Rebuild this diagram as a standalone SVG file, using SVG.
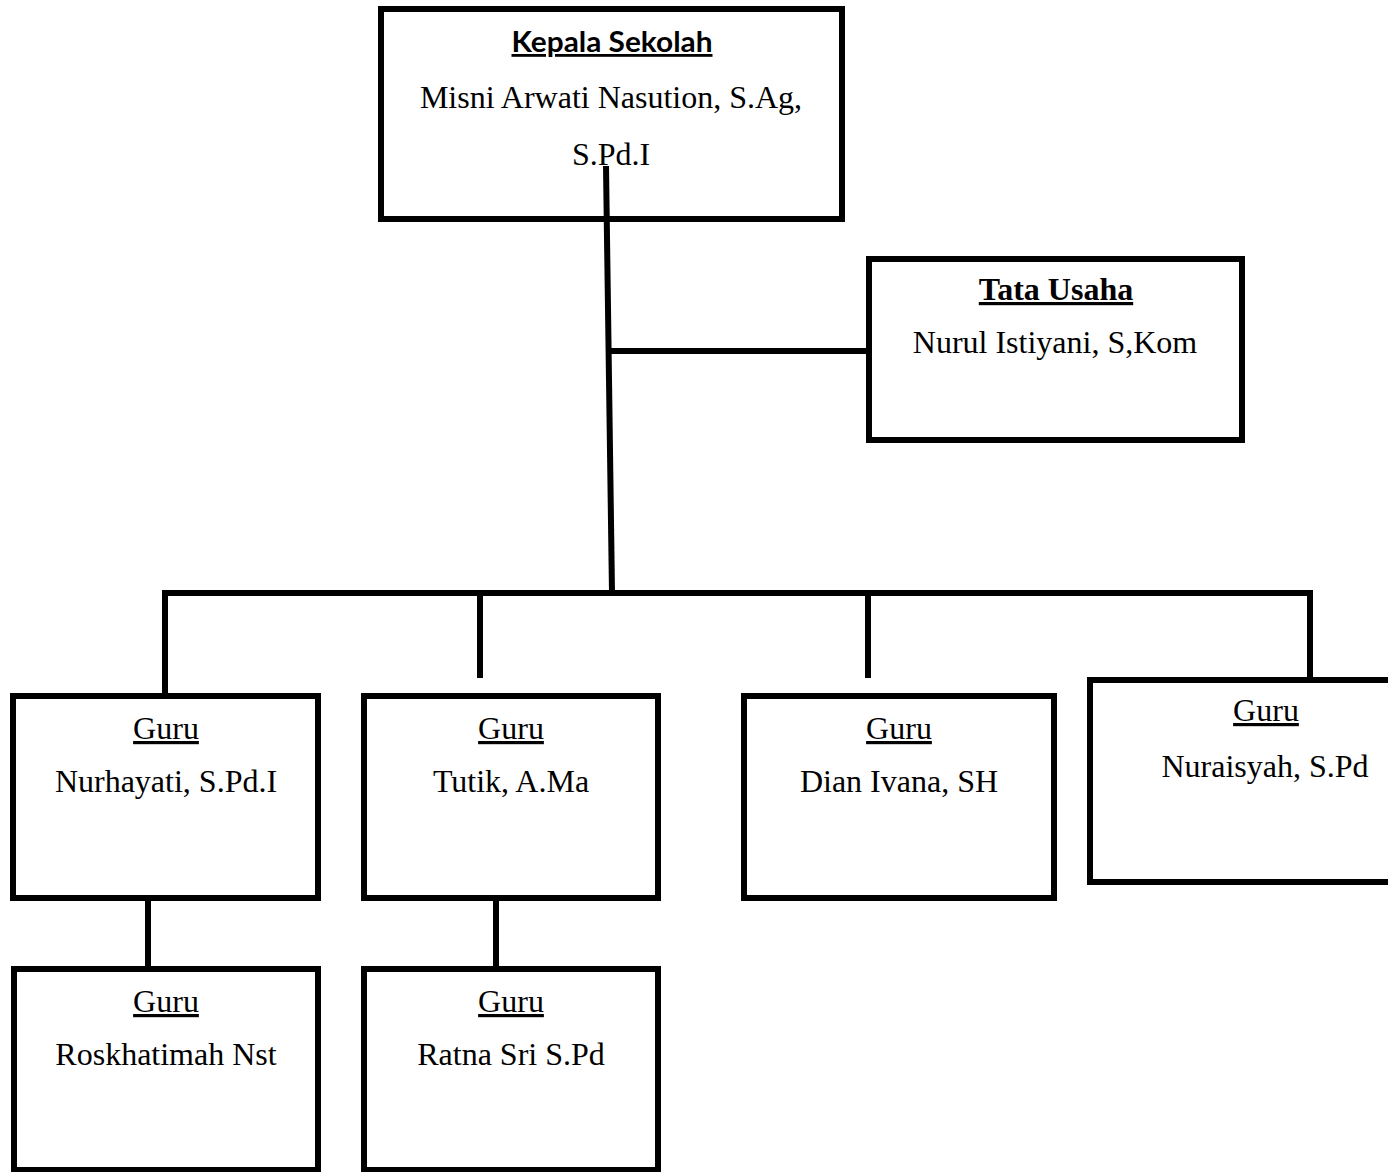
<svg xmlns="http://www.w3.org/2000/svg" width="1388" height="1172" viewBox="0 0 1388 1172">
<style>
.box{fill:#fff;stroke:#000;stroke-width:6}
.ln{fill:none;stroke:#000;stroke-width:6;stroke-linejoin:miter}
.t{font-family:"Liberation Serif","Times New Roman",serif;font-size:32px;fill:#000;text-anchor:middle}
.u{text-decoration:underline}
.b{font-weight:bold}
.s{font-family:Lato,"Open Sans","Liberation Sans",sans-serif;font-size:28px;font-weight:bold;fill:#000;text-anchor:middle;text-decoration:underline}
</style>
<rect width="1388" height="1172" fill="#fff"/>
<g id="kepala">
<rect class="box" x="381" y="9" width="461" height="210"/>
<text class="s" x="612" y="52" textLength="201" lengthAdjust="spacingAndGlyphs">Kepala Sekolah</text>
<text class="t" x="611" y="108">Misni Arwati Nasution, S.Ag,</text>
<text class="t" x="611" y="165">S.Pd.I</text>
</g>
<g id="connectors">
<line class="ln" x1="606" y1="166" x2="612" y2="593"/>
<line class="ln" x1="610" y1="351" x2="869" y2="351"/>
<polyline class="ln" points="165,696 165,593 1310,593 1310,680"/>
<line class="ln" x1="480" y1="593" x2="480" y2="678"/>
<line class="ln" x1="868" y1="593" x2="868" y2="678"/>
<line class="ln" x1="148" y1="898" x2="148" y2="969"/>
<line class="ln" x1="496" y1="898" x2="496" y2="969"/>
</g>
<g id="tata-usaha">
<rect class="box" x="869" y="259" width="373" height="181"/>
<text class="t b u" x="1056" y="300">Tata Usaha</text>
<text class="t" x="1055" y="353">Nurul Istiyani, S,Kom</text>
</g>
<g id="guru-nurhayati">
<rect class="box" x="13" y="696" width="305" height="202"/>
<text class="t u" x="166" y="739">Guru</text>
<text class="t" x="166" y="792">Nurhayati, S.Pd.I</text>
</g>
<g id="guru-tutik">
<rect class="box" x="364" y="696" width="294" height="202"/>
<text class="t u" x="511" y="739">Guru</text>
<text class="t" x="511" y="792">Tutik, A.Ma</text>
</g>
<g id="guru-dian">
<rect class="box" x="744" y="696" width="310" height="202"/>
<text class="t u" x="899" y="739">Guru</text>
<text class="t" x="899" y="792">Dian Ivana, SH</text>
</g>
<g id="guru-nuraisyah">
<rect class="box" x="1090" y="680" width="320" height="202"/>
<text class="t u" x="1266" y="721">Guru</text>
<text class="t" x="1265" y="777">Nuraisyah, S.Pd</text>
</g>
<g id="guru-roskhatimah">
<rect class="box" x="14" y="969" width="304" height="201"/>
<text class="t u" x="166" y="1012">Guru</text>
<text class="t" x="166" y="1065">Roskhatimah Nst</text>
</g>
<g id="guru-ratna">
<rect class="box" x="364" y="969" width="294" height="201"/>
<text class="t u" x="511" y="1012">Guru</text>
<text class="t" x="511" y="1065">Ratna Sri S.Pd</text>
</g>
</svg>
